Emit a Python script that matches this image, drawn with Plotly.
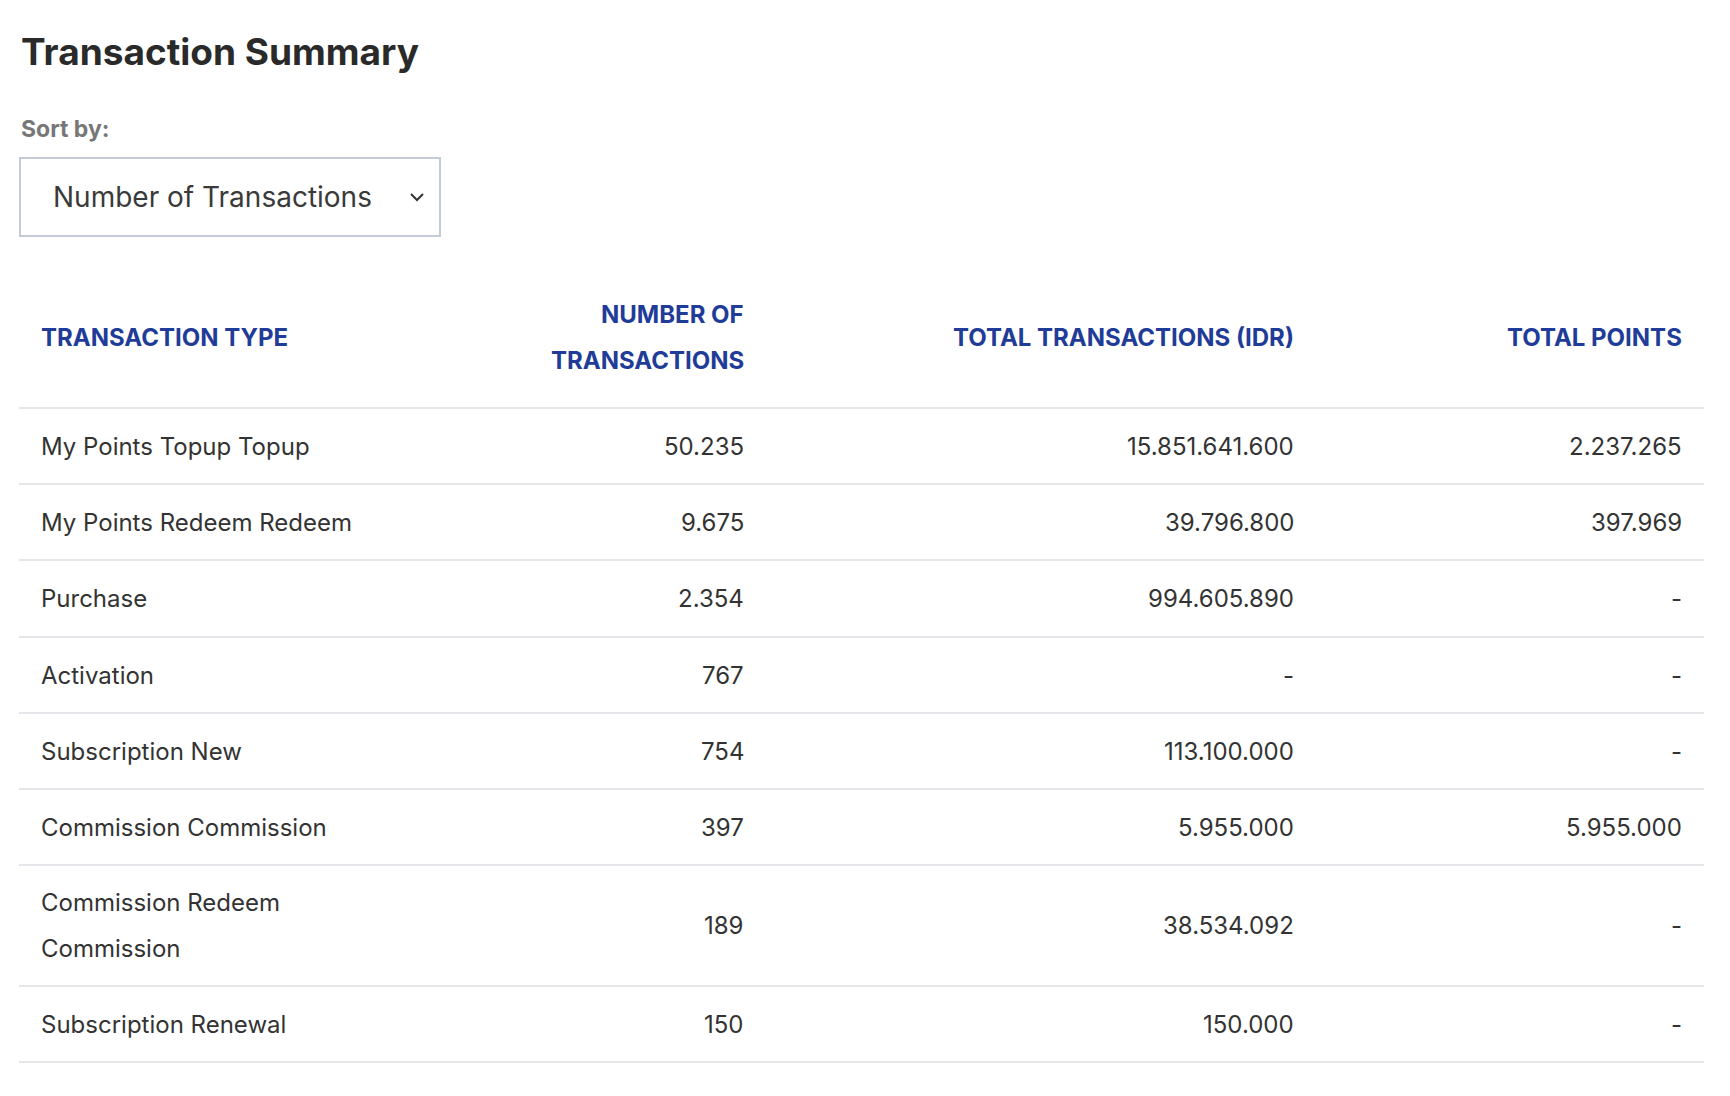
import plotly.graph_objects as go

# Table data
transaction_types = ["My Points Topup Topup", "My Points Redeem Redeem", "Purchase",
                     "Activation", "Subscription New", "Commission Commission",
                     "Commission Redeem<br>Commission", "Subscription Renewal"]
num_transactions = ["50.235", "9.675", "2.354", "767", "754", "397", "189", "150"]
total_idr = ["15.851.641.600", "39.796.800", "994.605.890", "-", "113.100.000",
             "5.955.000", "38.534.092", "150.000"]
total_points = ["2.237.265", "397.969", "-", "-", "-", "5.955.000", "-", "-"]
headers = ["TRANSACTION TYPE", "NUMBER OF<br>TRANSACTIONS", "TOTAL TRANSACTIONS (IDR)", "TOTAL POINTS"]

W, H = 1730, 1096
FONT = "Inter, Open Sans, sans-serif"
TXT = "#333333"
BLUE = "#1f3c98"
LINE = "#e6e6ea"
DX, DY = -11, -9   # shift to line up with reference
LINE_GAP = 46

fig = go.Figure()
fig.update_layout(width=W, height=H, margin=dict(l=0, r=0, t=0, b=0),
                  plot_bgcolor="white", paper_bgcolor="white", showlegend=False,
                  xaxis=dict(range=[0, W], visible=False, fixedrange=True),
                  yaxis=dict(range=[H, 0], visible=False, fixedrange=True))

ann = []


def add_text(x, y, text, anchor, size, color, bold=False):
    parts = text.split("<br>")
    top = y - (len(parts) - 1) * LINE_GAP / 2
    for k, p in enumerate(parts):
        ann.append(dict(x=x + DX, y=top + k * LINE_GAP + DY,
                        text="<b>" + p + "</b>" if bold else p, xanchor=anchor,
                        yanchor="middle", showarrow=False, xref="x", yref="y",
                        font=dict(size=size, color=color, family=FONT)))


# title and sort control
add_text(22, 52, "Transaction Summary", "left", 37, "#2a2a2a", bold=True)
add_text(22, 130, "Sort by:", "left", 23, "#777777", bold=True)
add_text(54, 198, "Number of Transactions", "left", 28, "#3a3a3a")
fig.add_shape(type="rect", x0=23 + DX, x1=443 + DX, y0=159 + DY, y1=237 + DY,
              line=dict(color="#c3ccd6", width=2), fillcolor="white", layer="below")
fig.add_trace(go.Scatter(x=[414 + DX, 420 + DX, 426 + DX], y=[195 + DY, 201 + DY, 195 + DY],
                         mode="lines", line=dict(color="#333", width=2), hoverinfo="skip"))

# columns: (x, anchor)
cols = [(42, "left"), (749, "right"), (1299, "right"), (1687, "right")]
for (cx, anc), h in zip(cols, headers):
    add_text(cx, 338, h, anc, 24, BLUE, bold=True)

lines = [409, 485, 561, 638, 714, 790, 866, 987, 1063]
for ly in lines:
    fig.add_shape(type="line", x0=22 + DX, x1=1707 + DX, y0=ly + DY, y1=ly + DY,
                  line=dict(color=LINE, width=2))

for i, name in enumerate(transaction_types):
    cy = (lines[i] + lines[i + 1]) / 2
    row = [name, num_transactions[i], total_idr[i], total_points[i]]
    for (cx, anc), val in zip(cols, row):
        add_text(cx, cy, val, anc, 24, TXT)

fig.update_layout(annotations=ann)
fig.write_html("out.html")
